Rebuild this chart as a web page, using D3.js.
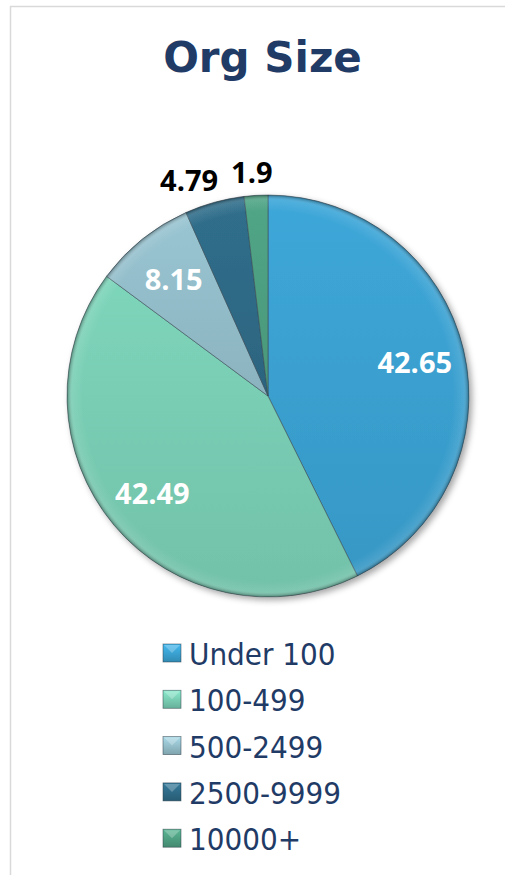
<!DOCTYPE html>
<html><head><meta charset="utf-8">
<script src="https://cdn.jsdelivr.net/npm/d3@7"></script>
<style>html,body{margin:0;padding:0;background:#fff;}svg{display:block;}</style>
</head><body>
<svg id="chart" width="505" height="875"></svg>
<script>
const title = "Org Size";
const categories = ["Under 100", "100-499", "500-2499", "2500-9999", "10000+"];
const values = [42.65, 42.49, 8.15, 4.79, 1.9];
const colors = ["#3AA0D0", "#78CCB2", "#93BDC9", "#2E6A86", "#4E9F81"];
const labelColors = ["#FFFFFF", "#FFFFFF", "#FFFFFF", "#000000", "#000000"];

const svg = d3.select("#chart");
const W = 505, H = 875;
const cx = 268, cy = 396, R = 201;

const defs = svg.append("defs");
const shadow = defs.append("filter").attr("id", "shadow").attr("x", "-20%").attr("y", "-20%").attr("width", "140%").attr("height", "140%");
shadow.append("feDropShadow").attr("dx", 3).attr("dy", 3).attr("stdDeviation", 3).attr("flood-color", "#000").attr("flood-opacity", 0.35);

colors.forEach((c, i) => {
  const g = defs.append("linearGradient").attr("id", "grad" + i).attr("x1", 0).attr("y1", 0).attr("x2", 0).attr("y2", 1);
  g.append("stop").attr("offset", "0%").attr("stop-color", d3.color(c).brighter(0.12));
  g.append("stop").attr("offset", "100%").attr("stop-color", d3.color(c).darker(0.15));
  const m = defs.append("linearGradient").attr("id", "mk" + i).attr("x1", 0).attr("y1", 0).attr("x2", 0).attr("y2", 1);
  m.append("stop").attr("offset", "0%").attr("stop-color", d3.color(c).brighter(0.4));
  m.append("stop").attr("offset", "100%").attr("stop-color", d3.color(c).darker(0.4));
});
const rl = defs.append("radialGradient").attr("id", "rimLocal");
rl.append("stop").attr("offset", "0.92").attr("stop-color", "#fff").attr("stop-opacity", 0);
rl.append("stop").attr("offset", "0.975").attr("stop-color", "#fff").attr("stop-opacity", 0.1);
rl.append("stop").attr("offset", "1").attr("stop-color", "#000").attr("stop-opacity", 0.35);

// frame
svg.append("line").attr("x1", 10.5).attr("y1", 6.5).attr("x2", 10.5).attr("y2", H).attr("stroke", "#D9D9D9").attr("stroke-width", 1.5);
svg.append("line").attr("x1", 10).attr("y1", 6.5).attr("x2", W).attr("y2", 6.5).attr("stroke", "#D9D9D9").attr("stroke-width", 1.5);

svg.append("text").attr("x", 262.5).attr("y", 72).attr("text-anchor", "middle")
  .attr("font-family", "DejaVu Sans").attr("font-weight", "bold").attr("font-size", 42)
  .attr("fill", "#1F3B66").text(title);

const data = categories.map((c, i) => ({ cat: c, value: values[i], i }));
const pie = d3.pie().value(d => d.value).sort(null);
const arcs = pie(data);
const arc = d3.arc().innerRadius(0).outerRadius(R);

const g = svg.append("g").attr("transform", `translate(${cx},${cy})`);
const pg = g.append("g").attr("filter", "url(#shadow)");
pg.selectAll("path.slice").data(arcs).join("path").attr("class", "slice")
  .attr("d", arc).attr("fill", d => `url(#grad${d.data.i})`)
  .attr("stroke", "#3A4A55").attr("stroke-opacity", 0.55).attr("stroke-width", 1);
g.append("circle").attr("r", R).attr("fill", "url(#rimLocal)");

// labels
const inArc = d3.arc().innerRadius(R * 0.75).outerRadius(R * 0.75);
arcs.forEach(d => {
  const outside = d.data.value < 6;
  const t = g.append("text").attr("text-anchor", "middle")
    .attr("dominant-baseline", "central")
    .attr("font-family", "Open Sans").attr("font-weight", "bold").attr("font-size", 29)
    .attr("fill", labelColors[d.data.i]).text(d.data.value);
  let x, y;
  if (outside) {
    const a = (d.startAngle + d.endAngle) / 2;
    const w = t.node().getComputedTextLength();
    const r = R + 8;
    x = Math.sin(a) * r + Math.sin(a) * w * 1.5;
    y = -Math.cos(a) * r - Math.cos(a) * 16;
  } else {
    [x, y] = inArc.centroid(d);
  }
  t.attr("x", x).attr("y", y);
});

// legend
const lg = svg.append("g").attr("transform", "translate(163,644)");
const items = lg.selectAll("g").data(data).join("g").attr("transform", (d, i) => `translate(0,${i * 46.3})`);
items.append("rect").attr("width", 18).attr("height", 18).attr("fill", d => `url(#mk${d.i})`)
  .attr("stroke", "#2A3A45").attr("stroke-opacity", 0.6).attr("stroke-width", 0.8);
items.append("path").attr("d", "M1,1 L17,1 L9,9 Z").attr("fill", "#fff").attr("opacity", 0.25);
items.append("text").attr("x", 26).attr("y", 21)
  .attr("font-family", "'DejaVu Sans Condensed', 'DejaVu Sans'").attr("font-stretch", "condensed").attr("font-size", 31)
  .attr("fill", "#1F3B66").text(d => d.cat);
</script>
</body></html>
